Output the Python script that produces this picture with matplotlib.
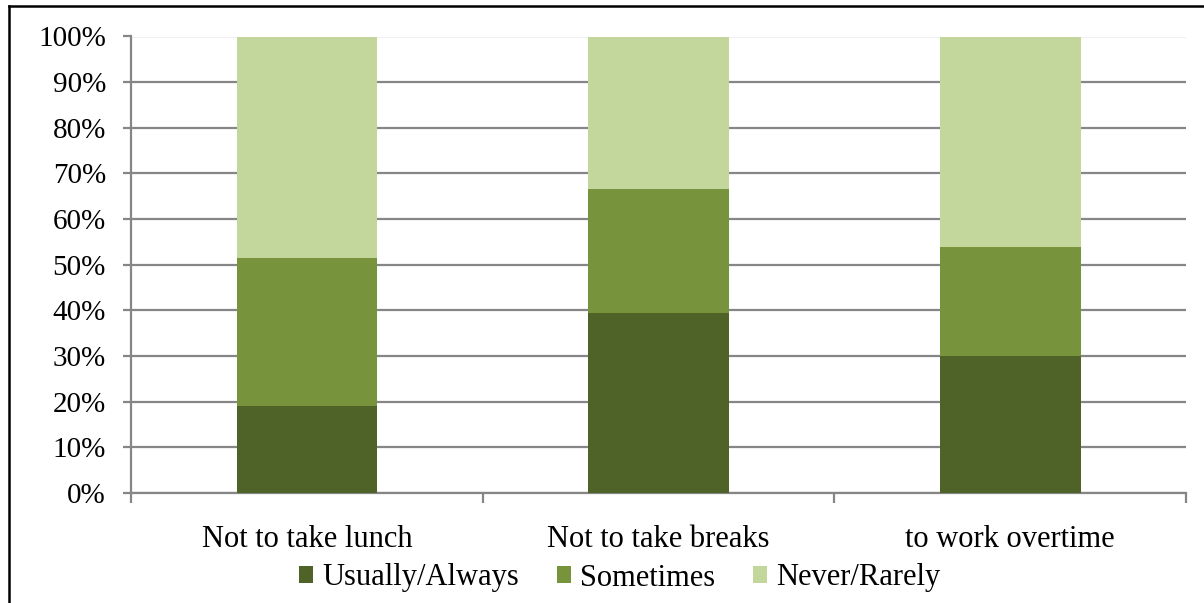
import matplotlib
matplotlib.use("Agg")
import matplotlib.pyplot as plt
from matplotlib.lines import Line2D
import numpy as np

categories = ["Not to take lunch", "Not to take breaks", "to work overtime"]
usually_always = [19.1, 39.5, 30.0]
sometimes = [32.3, 27.1, 23.9]
never_rarely = [48.6, 33.4, 46.1]
series_names = ["Usually/Always", "Sometimes", "Never/Rarely"]
colors = ["#4F6228", "#77933C", "#C3D69B"]
ytick_labels = [f"{v}%" for v in range(0, 101, 10)]

plt.rcParams["font.family"] = ["Liberation Serif", "DejaVu Serif"]

fig = plt.figure(figsize=(12.04, 6.03), dpi=100)
ax = fig.add_axes([131 / 1204, 1 - 493 / 603, 1055 / 1204, (493 - 36.5) / 603])

x = np.arange(len(categories))
bottom = np.zeros(len(categories))
for name, vals, col in zip(series_names, [usually_always, sometimes, never_rarely], colors):
    ax.bar(x, vals, width=0.40, bottom=bottom, color=col, label=name, zorder=3)
    bottom += np.array(vals)

ax.set_xlim(-0.5, len(categories) - 0.5)
ax.set_ylim(0, 100)
ax.set_yticks(range(0, 101, 10))
ax.set_yticklabels(ytick_labels, fontsize=21)
ax.set_xticks(x)
ax.set_xticklabels(categories, fontsize=22)
ax.set_xticks(np.arange(-0.5, len(categories)), minor=True)

grid_col = "#868686"
ax.grid(axis="y", color=grid_col, linewidth=1.6, zorder=0)
ax.set_axisbelow(True)
for s in ["top", "right"]:
    ax.spines[s].set_visible(False)
for s in ["left", "bottom"]:
    ax.spines[s].set_color(grid_col)
    ax.spines[s].set_linewidth(1.6)
ax.tick_params(axis="y", length=6, width=1.6, color=grid_col, pad=12)
ax.tick_params(axis="x", which="major", length=0, pad=23)
ax.tick_params(axis="x", which="minor", length=7, width=1.6, color=grid_col)

fig.legend(loc="center", bbox_to_anchor=(620 / 1204, 1 - 578 / 603), ncol=3, frameon=False,
           fontsize=22, handlelength=0.45, handleheight=0.45, handletextpad=0.3,
           columnspacing=1.25, borderpad=0)

# outer frame
fig.add_artist(Line2D([9 / 1204, 9 / 1204], [0, 1 - 6 / 603], transform=fig.transFigure,
                      color="black", linewidth=1.8))
fig.add_artist(Line2D([9 / 1204, 1], [1 - 6 / 603, 1 - 6 / 603], transform=fig.transFigure,
                      color="black", linewidth=1.8))

fig.savefig("out.png", dpi=100)
